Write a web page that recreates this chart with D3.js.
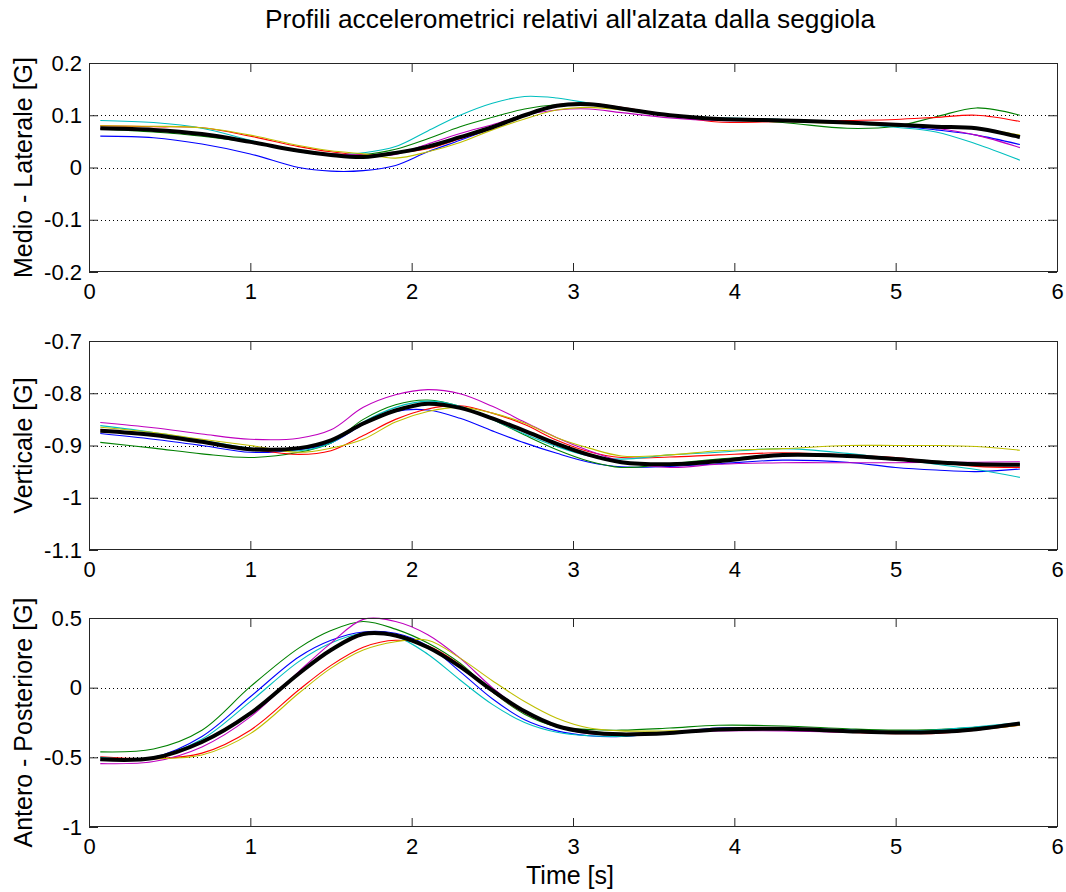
<!DOCTYPE html>
<html>
<head>
<meta charset="utf-8">
<script src="https://cdn.jsdelivr.net/npm/d3@7"></script>
<style>
  html, body { margin: 0; padding: 0; background: #fff; }
  svg { display: block; font-family: Arial, "Liberation Sans", sans-serif; }
</style>
</head>
<body>
<svg id="chart" width="1066" height="892"></svg>
<script>
// Sample instants (s) shared by every trace
const timeS = [0.07, 0.4, 0.7, 1.0, 1.3, 1.5, 1.7, 1.9, 2.1, 2.3, 2.5, 2.7, 2.9, 3.1, 3.3, 3.6, 3.9, 4.3, 4.7, 5.0, 5.25, 5.5, 5.77];

// Medio - Laterale [G]
const mlBlue    = [0.060, 0.057, 0.045, 0.026, 0.000, -0.007, -0.006, 0.004, 0.030, 0.052, 0.075, 0.100, 0.117, 0.120, 0.112, 0.100, 0.093, 0.090, 0.085, 0.080, 0.072, 0.062, 0.044];
const mlGreen   = [0.074, 0.068, 0.060, 0.048, 0.033, 0.026, 0.025, 0.035, 0.055, 0.078, 0.096, 0.112, 0.120, 0.120, 0.112, 0.100, 0.093, 0.086, 0.075, 0.079, 0.097, 0.114, 0.100];
const mlRed     = [0.080, 0.078, 0.076, 0.060, 0.040, 0.030, 0.024, 0.028, 0.036, 0.055, 0.075, 0.100, 0.120, 0.123, 0.115, 0.100, 0.087, 0.088, 0.090, 0.092, 0.096, 0.100, 0.088];
const mlCyan    = [0.090, 0.086, 0.075, 0.052, 0.030, 0.024, 0.028, 0.040, 0.070, 0.100, 0.123, 0.136, 0.133, 0.123, 0.113, 0.100, 0.095, 0.092, 0.085, 0.077, 0.068, 0.045, 0.014];
const mlMagenta = [0.075, 0.072, 0.064, 0.050, 0.032, 0.026, 0.024, 0.025, 0.045, 0.065, 0.082, 0.100, 0.110, 0.112, 0.105, 0.095, 0.090, 0.090, 0.088, 0.083, 0.075, 0.062, 0.038];
const mlYellow  = [0.080, 0.079, 0.076, 0.062, 0.042, 0.032, 0.026, 0.018, 0.030, 0.048, 0.072, 0.093, 0.110, 0.115, 0.110, 0.100, 0.092, 0.088, 0.084, 0.080, 0.078, 0.075, 0.062];
const mlMean    = [0.075, 0.072, 0.064, 0.049, 0.032, 0.024, 0.020, 0.028, 0.040, 0.058, 0.077, 0.100, 0.118, 0.121, 0.113, 0.100, 0.093, 0.090, 0.086, 0.082, 0.078, 0.075, 0.058];

// Verticale [G]
const vBlue    = [-0.877, -0.888, -0.900, -0.913, -0.908, -0.895, -0.860, -0.835, -0.832, -0.848, -0.872, -0.895, -0.915, -0.932, -0.941, -0.940, -0.935, -0.928, -0.932, -0.942, -0.947, -0.950, -0.945];
const vGreen   = [-0.894, -0.905, -0.916, -0.923, -0.913, -0.895, -0.850, -0.822, -0.813, -0.825, -0.850, -0.880, -0.908, -0.930, -0.942, -0.935, -0.926, -0.918, -0.920, -0.925, -0.930, -0.934, -0.936];
const vRed     = [-0.870, -0.880, -0.893, -0.907, -0.917, -0.910, -0.881, -0.850, -0.830, -0.824, -0.838, -0.860, -0.890, -0.912, -0.923, -0.922, -0.918, -0.914, -0.918, -0.923, -0.932, -0.940, -0.942];
const vCyan    = [-0.862, -0.875, -0.890, -0.905, -0.910, -0.895, -0.855, -0.827, -0.815, -0.825, -0.850, -0.878, -0.902, -0.920, -0.926, -0.918, -0.913, -0.906, -0.915, -0.926, -0.936, -0.946, -0.961];
const vMagenta = [-0.856, -0.866, -0.878, -0.888, -0.886, -0.870, -0.827, -0.803, -0.793, -0.801, -0.825, -0.855, -0.885, -0.910, -0.930, -0.942, -0.936, -0.933, -0.933, -0.933, -0.932, -0.932, -0.931];
const vYellow  = [-0.865, -0.875, -0.888, -0.900, -0.913, -0.905, -0.888, -0.855, -0.835, -0.827, -0.838, -0.857, -0.885, -0.905, -0.920, -0.918, -0.910, -0.906, -0.900, -0.900, -0.900, -0.902, -0.909];
const vMean    = [-0.872, -0.880, -0.893, -0.907, -0.905, -0.890, -0.858, -0.833, -0.820, -0.828, -0.848, -0.872, -0.897, -0.918, -0.932, -0.936, -0.930, -0.918, -0.920, -0.926, -0.932, -0.936, -0.937];

// Antero - Posteriore [G]
const apBlue    = [-0.520, -0.500, -0.350, -0.065, 0.220, 0.340, 0.400, 0.390, 0.300, 0.115, -0.080, -0.230, -0.310, -0.345, -0.350, -0.320, -0.290, -0.290, -0.305, -0.315, -0.305, -0.285, -0.260];
const apGreen   = [-0.461, -0.440, -0.305, 0.007, 0.284, 0.410, 0.475, 0.420, 0.320, 0.175, -0.030, -0.190, -0.280, -0.300, -0.305, -0.290, -0.270, -0.275, -0.295, -0.305, -0.300, -0.285, -0.258];
const apRed     = [-0.497, -0.510, -0.470, -0.305, -0.017, 0.160, 0.290, 0.340, 0.300, 0.164, -0.030, -0.180, -0.280, -0.325, -0.340, -0.325, -0.305, -0.300, -0.320, -0.330, -0.328, -0.305, -0.270];
const apCyan    = [-0.500, -0.500, -0.370, -0.100, 0.187, 0.320, 0.390, 0.370, 0.240, 0.055, -0.120, -0.250, -0.320, -0.345, -0.350, -0.320, -0.295, -0.290, -0.305, -0.315, -0.305, -0.280, -0.250];
const apMagenta = [-0.545, -0.530, -0.425, -0.210, 0.115, 0.320, 0.490, 0.475, 0.380, 0.212, 0.000, -0.170, -0.280, -0.330, -0.340, -0.325, -0.310, -0.310, -0.320, -0.325, -0.318, -0.300, -0.262];
const apYellow  = [-0.510, -0.510, -0.483, -0.330, -0.040, 0.140, 0.270, 0.330, 0.340, 0.212, 0.050, -0.100, -0.220, -0.290, -0.310, -0.310, -0.300, -0.300, -0.312, -0.315, -0.312, -0.300, -0.270];
const apMean    = [-0.514, -0.505, -0.390, -0.185, 0.100, 0.270, 0.385, 0.375, 0.290, 0.151, -0.020, -0.170, -0.275, -0.320, -0.335, -0.325, -0.300, -0.295, -0.312, -0.322, -0.318, -0.298, -0.257];

// Axis ticks
const xTicks  = [0, 1, 2, 3, 4, 5, 6];
const mlTicks = [-0.2, -0.1, 0, 0.1, 0.2];
const vTicks  = [-1.1, -1, -0.9, -0.8, -0.7];
const apTicks = [-1, -0.5, 0, 0.5];

const chartTitle = "Profili accelerometrici relativi all'alzata dalla seggiola";
const xLabel = "Time [s]";

// Trace colours (thin repetitions), the mean is drawn thick in black
const traceColors = ["#0000ff", "#008000", "#ff0000", "#00bfbf", "#bf00bf", "#bfbf00"];

const panels = [
  { label: "Medio - Laterale [G]", domain: [-0.2, 0.2], ticks: mlTicks,
    traces: [mlBlue, mlGreen, mlRed, mlCyan, mlMagenta, mlYellow], mean: mlMean, top: 63 },
  { label: "Verticale [G]", domain: [-1.1, -0.7], ticks: vTicks,
    traces: [vBlue, vGreen, vRed, vCyan, vMagenta, vYellow], mean: vMean, top: 341 },
  { label: "Antero - Posteriore [G]", domain: [-1, 0.5], ticks: apTicks,
    traces: [apBlue, apGreen, apRed, apCyan, apMagenta, apYellow], mean: apMean, top: 618 }
];

const left = 89, right = 1057, panelH = 209;
const tickFont = 22, labelFont = 25, titleFont = 26.3;
const svg = d3.select("#chart");

svg.append("rect").attr("width", 1066).attr("height", 892).attr("fill", "#fff");

const x = d3.scaleLinear().domain([0, 6]).range([left, right]);
// plain hyphen-minus for negative tick labels
const fmt = d => String(+(+d).toFixed(2));

panels.forEach((p, i) => {
  const y = d3.scaleLinear().domain(p.domain).range([p.top + panelH, p.top]);
  const g = svg.append("g");

  // dotted horizontal grid at the interior ticks
  g.selectAll("line.grid")
    .data(p.ticks.filter(t => t > p.domain[0] + 1e-9 && t < p.domain[1] - 1e-9))
    .join("line")
    .attr("class", "grid")
    .attr("x1", left).attr("x2", right)
    .attr("y1", d => Math.round(y(d)) + 0.5).attr("y2", d => Math.round(y(d)) + 0.5)
    .attr("stroke", "#000").attr("stroke-width", 1)
    .attr("stroke-dasharray", "1,3");

  // traces
  const line = d3.line()
    .x((d, k) => x(timeS[k]))
    .y(d => y(d))
    .curve(d3.curveCatmullRom.alpha(0.5));

  p.traces.forEach((vals, k) => {
    g.append("path").datum(vals)
      .attr("d", line)
      .attr("fill", "none")
      .attr("stroke", traceColors[k])
      .attr("stroke-width", 1.1);
  });
  g.append("path").datum(p.mean)
    .attr("d", line)
    .attr("fill", "none")
    .attr("stroke", "#000")
    .attr("stroke-width", 4);

  // axes: ticks drawn inside the box on all four sides
  const xb = g.append("g").attr("transform", `translate(0,${p.top + panelH})`)
    .call(d3.axisBottom(x).tickValues(xTicks).tickFormat(d3.format("d"))
      .tickSizeInner(-9).tickSizeOuter(0).tickPadding(11));
  const xt = g.append("g").attr("transform", `translate(0,${p.top})`)
    .call(d3.axisTop(x).tickValues(xTicks).tickFormat("")
      .tickSizeInner(-9).tickSizeOuter(0));
  const yl = g.append("g").attr("transform", `translate(${left},0)`)
    .call(d3.axisLeft(y).tickValues(p.ticks).tickFormat(fmt)
      .tickSizeInner(-9).tickSizeOuter(0).tickPadding(7));
  const yr = g.append("g").attr("transform", `translate(${right},0)`)
    .call(d3.axisRight(y).tickValues(p.ticks).tickFormat("")
      .tickSizeInner(-9).tickSizeOuter(0));

  [xb, xt, yl, yr].forEach(a => {
    a.select(".domain").remove();
    a.selectAll(".tick line").attr("stroke", "#262626");
    a.selectAll("text").attr("font-size", tickFont).attr("fill", "#000")
      .attr("font-family", "Arial, 'Liberation Sans', sans-serif");
  });

  // box
  g.append("rect")
    .attr("x", left + 0.5).attr("y", p.top + 0.5)
    .attr("width", right - left).attr("height", panelH - 1)
    .attr("fill", "none").attr("stroke", "#262626").attr("stroke-width", 1);

  // y label
  g.append("text")
    .attr("transform", `translate(32,${p.top + panelH / 2}) rotate(-90)`)
    .attr("text-anchor", "middle")
    .attr("font-size", labelFont)
    .attr("fill", "#000")
    .text(p.label);
});

svg.append("text")
  .attr("x", 570).attr("y", 28)
  .attr("text-anchor", "middle")
  .attr("font-size", titleFont)
  .attr("fill", "#000")
  .text(chartTitle);

svg.append("text")
  .attr("x", 570).attr("y", 884)
  .attr("text-anchor", "middle")
  .attr("font-size", labelFont)
  .attr("fill", "#000")
  .text(xLabel);
</script>
</body>
</html>
